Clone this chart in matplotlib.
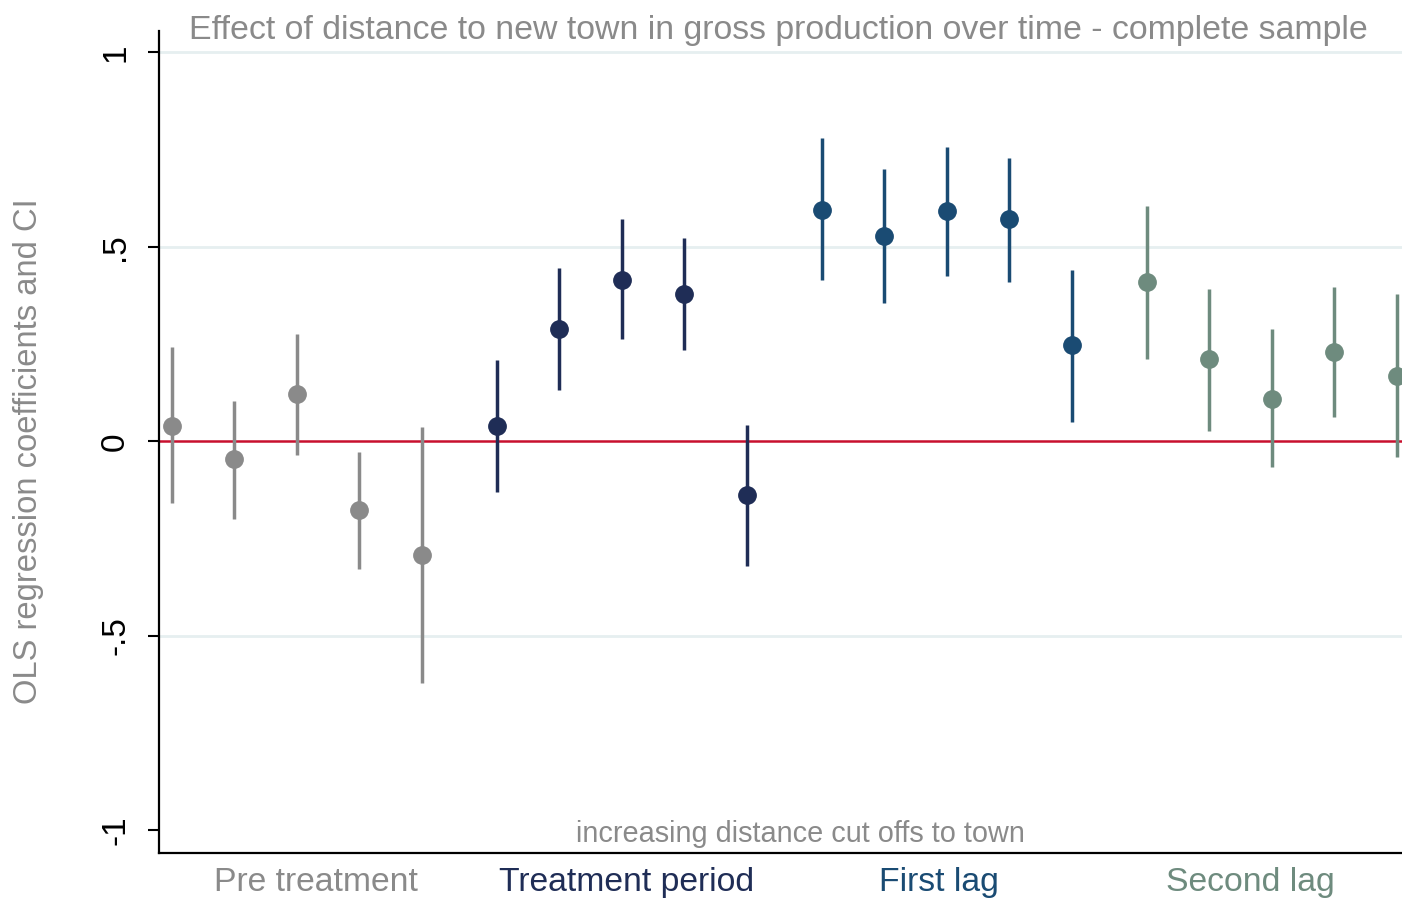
import numpy as np
import matplotlib
matplotlib.use("Agg")
import matplotlib.pyplot as plt

plt.rcParams['font.family'] = ['Liberation Sans', 'DejaVu Sans']

# coefficients and confidence bounds, five distance cut offs per period
groups = ['Pre treatment', 'Treatment period', 'First lag', 'Second lag']
colors = ['#8a8a8a', '#1f2d56', '#1a4b73', '#6e8b7e']

coef = [
    [0.039, -0.046, 0.121, -0.177, -0.293],
    [0.039, 0.288, 0.416, 0.378, -0.139],
    [0.596, 0.527, 0.591, 0.571, 0.247],
    [0.409, 0.211, 0.108, 0.229, 0.167],
]
ci_low = [
    [-0.159, -0.200, -0.036, -0.329, -0.620],
    [-0.129, 0.131, 0.262, 0.234, -0.321],
    [0.414, 0.357, 0.424, 0.411, 0.051],
    [0.211, 0.028, -0.067, 0.064, -0.039],
]
ci_high = [
    [0.242, 0.103, 0.275, -0.028, 0.036],
    [0.208, 0.445, 0.571, 0.524, 0.041],
    [0.779, 0.699, 0.758, 0.728, 0.440],
    [0.604, 0.391, 0.288, 0.398, 0.380],
]

gap = 5.2
fig = plt.figure(figsize=(14.02, 8.98), dpi=100)
ax = fig.add_axes([0.1134, 0.0501, 0.8866, 0.9154])

for g in range(4):
    x = np.arange(5) + g * gap
    ax.vlines(x, ci_low[g], ci_high[g], color=colors[g], lw=2.5, zorder=3)
    ax.plot(x, coef[g], 'o', color=colors[g], ms=12.5, zorder=4)

for yv in [1, 0.5, -0.5]:
    ax.axhline(yv, color='#e6eff0', lw=2, zorder=1)
ax.axhline(0, color='#c8102e', lw=1.8, zorder=2)

ax.set_xlim(-0.208, 19.68)
ax.set_ylim(-1.058, 1.055)
ax.set_yticks([1, 0.5, 0, -0.5, -1])
ax.set_yticklabels(['1', '.5', '0', '-.5', '-1'], rotation=90, va='center',
                   fontsize=24)
ax.tick_params(axis='y', length=8, width=1.5, pad=12)
ax.set_xticks([])
for side in ['top', 'right']:
    ax.spines[side].set_visible(False)
for side in ['left', 'bottom']:
    ax.spines[side].set_linewidth(1.6)

# period labels under the axis
label_x = [2.3, 7.28, 12.27, 17.26]
for g in range(4):
    ax.text(label_x[g], -0.017, groups[g], color=colors[g], fontsize=24.3,
            ha='center', va='top', transform=ax.get_xaxis_transform())

ax.text(10.06, -1.01, 'increasing distance cut offs to town', color='#8a8a8a',
        fontsize=20.8, ha='center', va='center')

fig.text(778 / 1402, 1 - 30 / 898,
         'Effect of distance to new town in gross production over time - complete sample',
         color='#8a8a8a', fontsize=24.4, ha='center', va='center')
fig.text(29 / 1402, 1 - 451 / 898, 'OLS regression coefficients and CI',
         color='#8a8a8a', fontsize=23.6, rotation=90, ha='center', va='center')

fig.savefig('out.png', dpi=100)
